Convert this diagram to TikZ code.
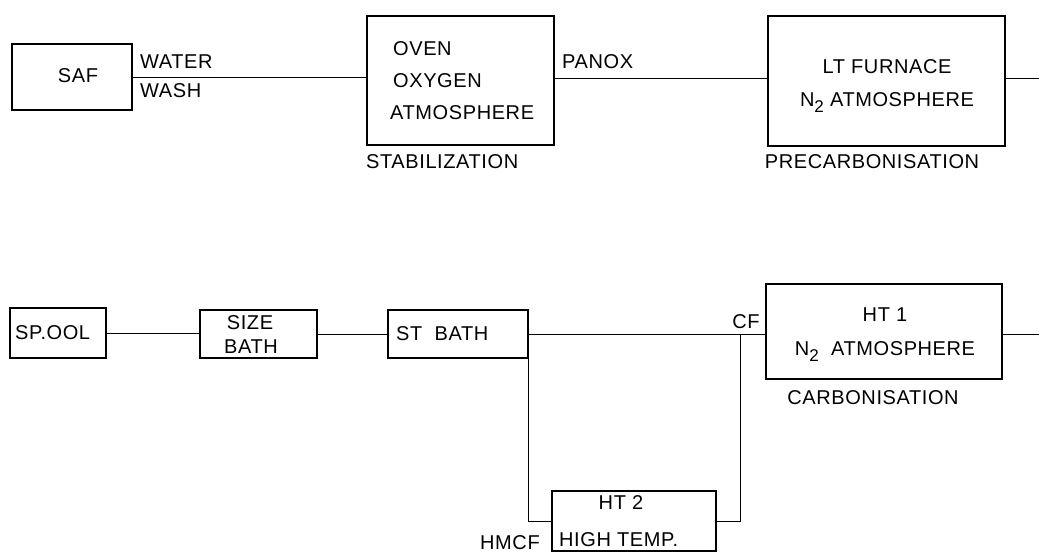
\documentclass[tikz,border=0pt]{standalone}
\usepackage{fontspec}
\setmainfont{Liberation Sans}[LetterSpace=3]
\begin{document}
\begin{tikzpicture}[x=1pt,y=-1pt,
  box/.style={draw,line width=1.6pt,rectangle,inner sep=0pt},
  conn/.style={line width=0.9pt},
  txt/.style={inner sep=0pt,font=\fontsize{20}{20}\selectfont},
  txtw/.style={txt,anchor=west}]
\useasboundingbox (0,0) rectangle (1039,554);
\newcommand{\Ntwo}{N\raisebox{-6pt}{\fontsize{17}{17}\selectfont 2}}
% top row boxes
\node[box,minimum width=120,minimum height=66] (saf) at (72,77) {};
\node[box,minimum width=187,minimum height=129] (oven) at (460.5,80.5) {};
\node[box,minimum width=237,minimum height=130] (lt) at (886.5,81) {};
% top texts
\node[txt] (tsaf) at (78,76) {SAF};
\node[txtw] (twater) at (140,62) {WATER};
\node[txtw] (twash) at (140,91) {WASH};
\node[txtw] (toven) at (393,49) {OVEN};
\node[txtw] (toxy) at (393,81) {OXYGEN};
\node[txtw] (tatm) at (390,113) {ATMOSPHERE};
\node[txtw] (tstab) at (366,162) {STABILIZATION};
\node[txtw] (tpanox) at (562,62) {PANOX};
\node[txt] (tlt) at (887,67) {LT FURNACE};
\node[txt] (tn2a) at (887,103) {\Ntwo\ ATMOSPHERE};
\node[txt] (tprec) at (872,162) {PRECARBONISATION};
% top connectors
\coordinate (out1) at (1039,78);
\draw[conn] (saf.east) -- (saf.east -| oven.west);
\draw[conn] (oven.east |- out1) -- (lt.west |- out1);
\draw[conn] (lt.east |- out1) -- (out1);
% bottom row boxes
\node[box,minimum width=96,minimum height=50] (sp) at (58,333) {};
\node[box,minimum width=117,minimum height=48] (sz) at (258.5,334) {};
\node[box,minimum width=140,minimum height=48] (stb) at (458,334) {};
\node[box,minimum width=236,minimum height=95] (ht1) at (884,331.5) {};
\node[box,minimum width=164,minimum height=60] (ht2) at (634,521) {};
% bottom texts
\node[txtw] (tsp) at (15,333) {SP.OOL};
\node[txt] (tsize) at (250,323) {SIZE};
\node[txt] (tbath) at (251,347) {BATH};
\node[txtw] (tstb) at (396,334) {ST\ \ BATH};
\node[txt] (tcf) at (746,322) {CF};
\node[txt] (tht1) at (885,315) {HT 1};
\node[txt] (tn2b) at (885,352) {\Ntwo\ \ ATMOSPHERE};
\node[txt] (tcarb) at (873,398) {CARBONISATION};
\node[txt] (tht2) at (621,503) {HT 2};
\node[txtw] (thigh) at (559,540) {HIGH TEMP.};
\node[txtw] (thmcf) at (480,543) {HMCF};
% bottom connectors
\coordinate (cfj) at (740,334);
\coordinate (out2) at (1039,334);
\draw[conn] (sp.east) -- (sp.east -| sz.west);
\draw[conn] (sz.east) -- (sz.east -| stb.west);
\draw[conn] (stb.east) -- (stb.east -| ht1.west);
\draw[conn] (ht1.east |- out2) -- (out2);
\draw[conn] (stb.south east) |- (ht2.west);
\draw[conn] (ht2.east) -| (cfj);
\end{tikzpicture}
\end{document}
